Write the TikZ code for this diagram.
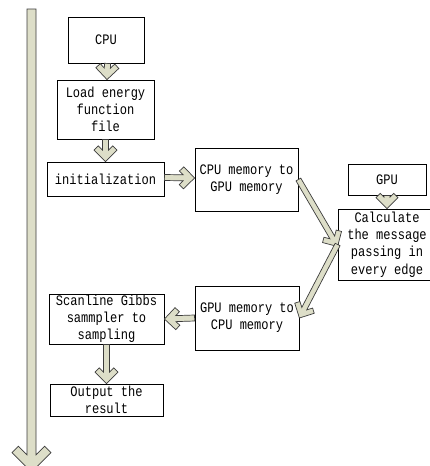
\documentclass[tikz,border=0pt]{standalone}
\usepackage{fontspec}
\newfontfamily\boxfont[FakeStretch=0.83]{Liberation Mono}
\usetikzlibrary{calc}
\definecolor{arrfill}{RGB}{221,222,200}
\definecolor{arrline}{RGB}{60,60,60}
\tikzset{
  box/.style={draw=black, fill=white, line width=0.8pt, inner sep=0pt, align=center,
    font=\boxfont\fontsize{14.5}{17.2}\selectfont},
  blockarrow/.style={fill=arrfill, draw=arrline, line width=0.7pt, line join=miter}
}
% #1 start, #2 end (apex), #3 shaft width, #4 head size
\newcommand\blockarr[4]{%
  \path (#1) coordinate (arrP) (#2) coordinate (arrQ);
  \pgfpointdiff{\pgfpointanchor{arrP}{center}}{\pgfpointanchor{arrQ}{center}}%
  \pgfgetlastxy\arrdx\arrdy
  \pgfmathsetmacro\arrang{atan2(\arrdy,\arrdx)}%
  \pgfmathsetmacro\arrlen{veclen(\arrdx,\arrdy)}%
  \pgfmathsetmacro\arrS{#3/2}%
  \pgfmathsetmacro\arrR{#3*1.41421}%
  \pgfmathsetmacro\arrQ{#3*0.70711}%
  \pgfmathsetmacro\arrA{#4}%
  \draw[blockarrow, shift={(arrP)}, rotate=\arrang]
    (0,\arrS) -- ({\arrlen-\arrR-\arrS},\arrS)
    -- ({\arrlen-\arrA-\arrQ},{\arrA-\arrQ}) -- ({\arrlen-\arrA},\arrA)
    -- (\arrlen,0)
    -- ({\arrlen-\arrA},-\arrA) -- ({\arrlen-\arrA-\arrQ},{\arrQ-\arrA})
    -- ({\arrlen-\arrR-\arrS},-\arrS) -- (0,-\arrS) -- cycle;
}
\begin{document}
\begin{tikzpicture}[x=1pt,y=-1pt]
\useasboundingbox (0,0) rectangle (430,466);
\clip (0,0) rectangle (430,466);
\fill[white] (0,0) rectangle (430,466);

\node[box, minimum width=76pt, minimum height=46pt] (cpu) at (106,40) {CPU};
\node[box, minimum width=97pt, minimum height=59pt] (load) at (105.5,109.5) {Load energy\\function\\file};
\node[box, minimum width=117pt, minimum height=34pt] (init) at (105.5,179) {initialization};
\node[box, minimum width=103pt, minimum height=63pt] (c2g) at (246.5,179.5) {CPU memory to\\GPU memory};
\node[box, minimum width=78pt, minimum height=31pt] (gpu) at (387,179.5) {GPU};
\node[box, minimum width=98pt, minimum height=71pt] (calcb) at (387,244.5) {Calculate\\the message\\passing in\\every edge};
\node[box, minimum width=104pt, minimum height=64pt] (g2c) at (247,318) {GPU memory to\\CPU memory};
\node[box, minimum width=115pt, minimum height=50pt] (scan) at (106.5,319) {Scanline Gibbs\\sammpler to\\sampling};
\node[box, minimum width=113pt, minimum height=32pt] (out) at (106.5,400) {Output the\\result};

\coordinate (flowtop) at (31.5,9);
\coordinate (flowend) at (31.5,472);
\blockarr{flowtop}{flowend}{9}{19.5}

\blockarr{$(cpu.south)+(1.5,0)$}{$(load.north)+(1.5,0)$}{6}{11.5}
\blockarr{load.south}{init.north}{6}{11.5}
\blockarr{$(init.east)+(0,-1.5)$}{$(c2g.west)+(0,-1.5)$}{6}{11}
\blockarr{c2g.east}{$(calcb.west)+(0,2)$}{5.5}{11}
\blockarr{gpu.south}{calcb.north}{6}{11}
\blockarr{calcb.west}{g2c.east}{5.5}{11}
\blockarr{g2c.west}{scan.east}{6}{11}
\blockarr{scan.south}{out.north}{6}{11.5}
\end{tikzpicture}
\end{document}
